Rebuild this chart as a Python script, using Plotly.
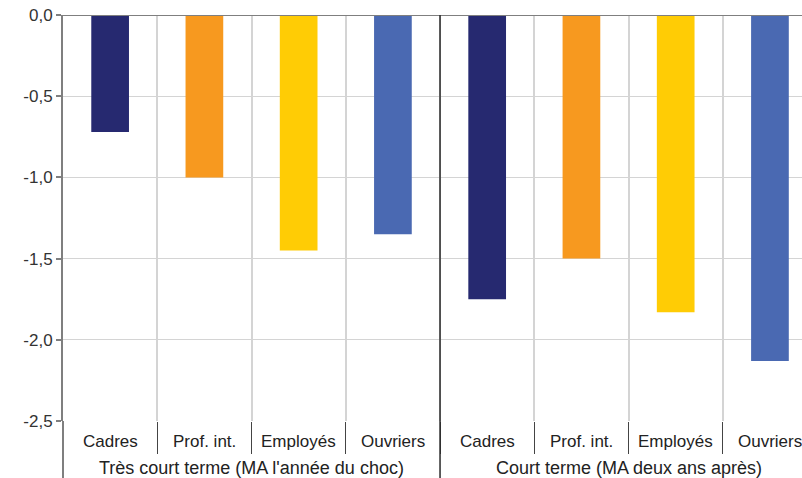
import plotly.graph_objects as go

# Groups (time horizon) and socio-professional categories
groups = ["Très court terme (MA l'année du choc)", "Court terme (MA deux ans après)"]
categories = ["Cadres", "Prof. int.", "Employés", "Ouvriers"]

# Effect per category, one value per group
cadres = [-0.72, -1.75]
prof_int = [-1.00, -1.50]
employes = [-1.45, -1.83]
ouvriers = [-1.35, -2.13]

colors = ["#262970", "#F7991F", "#FFCC05", "#4A69B2"]

y_tickvals = [0, -0.5, -1.0, -1.5, -2.0, -2.5]
y_ticktext = ["0,0", "-0,5", "-1,0", "-1,5", "-2,0", "-2,5"]

series = [cadres, prof_int, employes, ouvriers]
n_cat = len(categories)

W, H = 802, 478
m_l, m_r, m_t, m_b = 63, 0, 15, 57
plot_h = H - m_t - m_b

fig = go.Figure()
for ci, (name, vals, col) in enumerate(zip(categories, series, colors)):
    xs = [gi * n_cat + ci for gi in range(len(groups))]
    fig.add_trace(go.Bar(x=xs, y=vals, name=name, marker_color=col,
                         marker_line_width=0, width=0.4, showlegend=False))

# boundaries between categories (grid inside, separators below the axis)
bounds = [gi * n_cat + ci + 0.5 for gi in range(len(groups)) for ci in range(n_cat)]

fig.update_xaxes(
    range=[-0.5, 7.34], tickmode="array", tickvals=bounds, ticktext=[""] * len(bounds),
    showgrid=True, gridcolor="#d4d4d4", gridwidth=1.5,
    ticks="outside", ticklen=32, tickcolor="#444444", tickwidth=1.3,
    showline=False, zeroline=False, fixedrange=True,
)
fig.update_yaxes(
    range=[-2.5, 0], tickmode="array", tickvals=y_tickvals, ticktext=y_ticktext,
    showgrid=True, gridcolor="#d4d4d4", gridwidth=1,
    ticks="outside", ticklen=5, tickcolor="#7f7f7f", tickwidth=1.5,
    showline=True, linecolor="#7f7f7f", linewidth=2,
    zeroline=False, tickfont=dict(family="Liberation Sans, Arial", size=17, color="#333333"),
)

bottom = -m_b / plot_h
shapes = [
    # zero line along the top
    dict(type="line", xref="paper", yref="y", x0=0, x1=1, y0=0, y1=0,
         line=dict(color="#7f7f7f", width=2), layer="above"),
    # left axis extended down through the label area
    dict(type="line", xref="paper", yref="paper", x0=0, x1=0, y0=bottom, y1=0,
         line=dict(color="#7f7f7f", width=2)),
]
# separator between the two groups
for gi in range(1, len(groups)):
    xs = gi * n_cat - 0.5
    shapes.append(dict(type="line", xref="x", yref="paper", x0=xs, x1=xs, y0=bottom, y1=1,
                       line=dict(color="#2a2a2a", width=1.5), layer="above"))

annotations = []
cat_font = dict(family="Liberation Sans, Arial", size=17, color="#222222")
grp_font = dict(family="Liberation Sans, Arial", size=18, color="#222222")
for gi, g in enumerate(groups):
    for ci, c in enumerate(categories):
        annotations.append(dict(x=gi * n_cat + ci, y=-20 / plot_h, xref="x", yref="paper",
                                text=c, showarrow=False, yanchor="middle", font=cat_font))
    annotations.append(dict(x=gi * n_cat + (n_cat - 1) / 2, y=-47 / plot_h, xref="x", yref="paper",
                            text=g, showarrow=False, yanchor="middle", font=grp_font))

fig.update_layout(
    width=W, height=H, margin=dict(l=m_l, r=m_r, t=m_t, b=m_b, pad=0),
    paper_bgcolor="white", plot_bgcolor="white", bargap=0.6,
    shapes=shapes, annotations=annotations,
    font=dict(family="Liberation Sans, Arial", color="#333333"),
)

fig.write_html("out.html")
